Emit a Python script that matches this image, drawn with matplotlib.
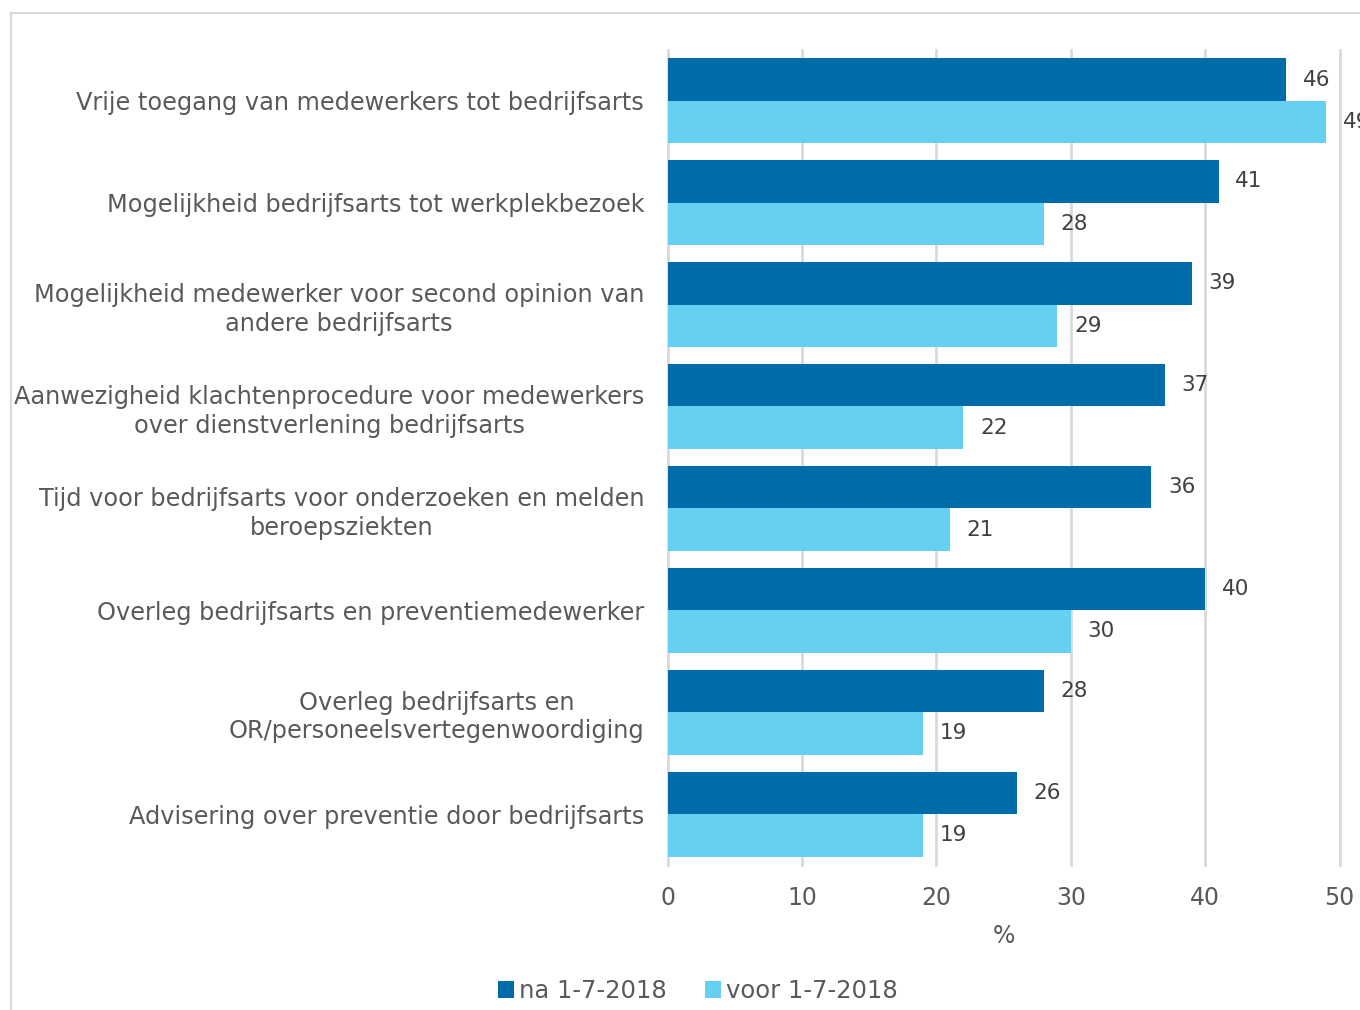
import matplotlib.pyplot as plt
from matplotlib.patches import Rectangle
import numpy as np

# Data
categories = [
    "Vrije toegang van medewerkers tot bedrijfsarts",
    "Mogelijkheid bedrijfsarts tot werkplekbezoek",
    "Mogelijkheid medewerker voor second opinion van\nandere bedrijfsarts",
    "Aanwezigheid klachtenprocedure voor medewerkers\nover dienstverlening bedrijfsarts",
    "Tijd voor bedrijfsarts voor onderzoeken en melden\nberoepsziekten",
    "Overleg bedrijfsarts en preventiemedewerker",
    "Overleg bedrijfsarts en\nOR/personeelsvertegenwoordiging",
    "Advisering over preventie door bedrijfsarts",
]
na_values = [46, 41, 39, 37, 36, 40, 28, 26]
voor_values = [49, 28, 29, 22, 21, 30, 19, 19]
series_names = ["na 1-7-2018", "voor 1-7-2018"]
x_ticks = [0, 10, 20, 30, 40, 50]

DARK = "#006DAA"
LIGHT = "#66D0F3"
TEXT = "#595959"
GRID = "#D9D9D9"

plt.rcParams['font.family'] = ['DejaVu Sans']

fig = plt.figure(figsize=(13.6, 10.1), dpi=100)
ax = fig.add_axes([0.491, 0.1436, 0.494, 0.807])

# thin frame around the chart area
fig.patches.append(Rectangle((11 / 1360, -0.1), 1.2, 1 - 13 / 1010 + 0.1,
                             transform=fig.transFigure, fill=False,
                             edgecolor=GRID, linewidth=1.5))

y = np.arange(len(categories))
h = 0.417
bars_na = ax.barh(y - h / 2, na_values, height=h, color=DARK, label=series_names[0], zorder=3)
bars_voor = ax.barh(y + h / 2, voor_values, height=h, color=LIGHT, label=series_names[1], zorder=3)

for bars in (bars_na, bars_voor):
    for b in bars:
        w = b.get_width()
        ax.annotate(f"{w:g}", (w, b.get_y() + b.get_height() / 2),
                    xytext=(12, 0), textcoords="offset points",
                    ha="left", va="center", fontsize=15.5, color="#404040",
                    annotation_clip=False)

ax.set_xlim(0, 50)
ax.set_ylim(len(categories) - 0.5, -0.5)
ax.set_xticks(x_ticks)
ax.set_yticks(y)
ax.set_yticklabels(categories, fontsize=17.3, color=TEXT,
                   multialignment="center", linespacing=1.25)
ax.tick_params(axis="x", labelsize=17, labelcolor=TEXT, length=0, pad=15)
ax.tick_params(axis="y", length=0, pad=17)
ax.xaxis.grid(True, color=GRID, linewidth=2, zorder=0)
for gl in ax.get_xgridlines():
    gl.set_clip_on(False)
for s in ax.spines.values():
    s.set_visible(False)
ax.set_xlabel("%", fontsize=17, color=TEXT, labelpad=10)

fig.legend(handles=[bars_na, bars_voor], labels=series_names, loc="center",
           bbox_to_anchor=(698 / 1360, 1 - 991 / 1010), ncol=2, frameon=False,
           fontsize=17.5, labelcolor=TEXT, handlelength=0.65, handleheight=0.65,
           handletextpad=0.2, columnspacing=1.6)

fig.savefig("out.png", dpi=100)
